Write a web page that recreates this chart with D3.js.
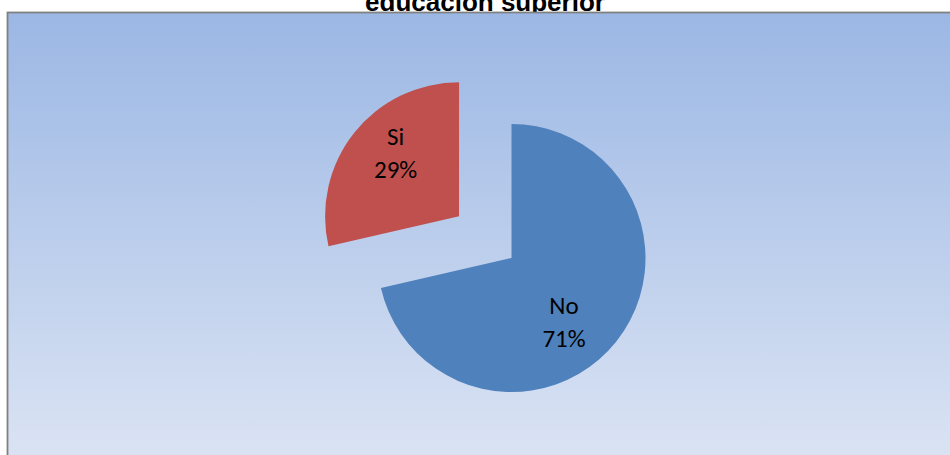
<!DOCTYPE html>
<html>
<head>
<meta charset="utf-8">
<script src="https://cdn.jsdelivr.net/npm/d3@7"></script>
<style>
  html, body { margin: 0; padding: 0; background: #ffffff; }
  svg { display: block; }
</style>
</head>
<body>
<svg id="chart" width="950" height="455"></svg>
<script>
// ---- data ----
const categories = ["No", "Si"];
const values = [71.4, 28.6];
const colors = ["#4F81BD", "#C0504D"];
const titleText = "educación superior";

// ---- layout ----
const W = 950, H = 455;
const cx = 511.5, cy = 258, R = 134;
const explodeDist = [0, 67];
const labelNudge = [[-14, 11.5], [3, -10]];

const svg = d3.select("#chart");

const defs = svg.append("defs");
const grad = defs.append("linearGradient").attr("id", "bg").attr("x1", 0).attr("y1", 0).attr("x2", 0).attr("y2", 1);
grad.append("stop").attr("offset", "0%").attr("stop-color", "#9BB7E4");
grad.append("stop").attr("offset", "100%").attr("stop-color", "#DDE5F4");

// title (partially cut at top, as in the reference)
svg.append("text")
  .attr("x", 485).attr("y", 10.5)
  .attr("text-anchor", "middle")
  .style("font-family", "Arial, 'Liberation Sans', sans-serif")
  .style("font-weight", "bold")
  .style("font-size", "26px")
  .attr("fill", "#000")
  .text(titleText);

// plot area
svg.append("rect")
  .attr("x", 7.5).attr("y", 12.5)
  .attr("width", W + 10).attr("height", H + 10)
  .attr("fill", "url(#bg)")
  .attr("stroke", "#808080")
  .attr("stroke-width", 1.8);

const pie = d3.pie().sort(null).value(d => d)(values);
const arc = d3.arc().innerRadius(0).outerRadius(R);
const labelArc = d3.arc().innerRadius(85).outerRadius(85);

const g = svg.append("g").attr("transform", `translate(${cx},${cy})`);

const slices = g.selectAll("g.slice").data(pie).join("g")
  .attr("class", "slice")
  .attr("transform", (d, i) => {
    const a = (d.startAngle + d.endAngle) / 2;
    return `translate(${Math.sin(a) * explodeDist[i]},${-Math.cos(a) * explodeDist[i]})`;
  });

slices.append("path")
  .attr("d", arc)
  .attr("fill", (d, i) => colors[i]);

const total = d3.sum(values);
slices.each(function(d, i) {
  const c = labelArc.centroid(d);
  const x = c[0] + labelNudge[i][0];
  const y = c[1] + labelNudge[i][1];
  const t = d3.select(this).append("text")
    .attr("text-anchor", "middle")
    .style("font-family", "Calibri, Carlito, 'Open Sans', sans-serif")
    .style("font-size", "25px")
    .attr("fill", "#000");
  t.append("tspan").attr("x", x).attr("y", y - 8).text(categories[i]);
  t.append("tspan").attr("x", x).attr("y", y + 24.5).text(Math.round(values[i] / total * 100) + "%");
});
</script>
</body>
</html>
